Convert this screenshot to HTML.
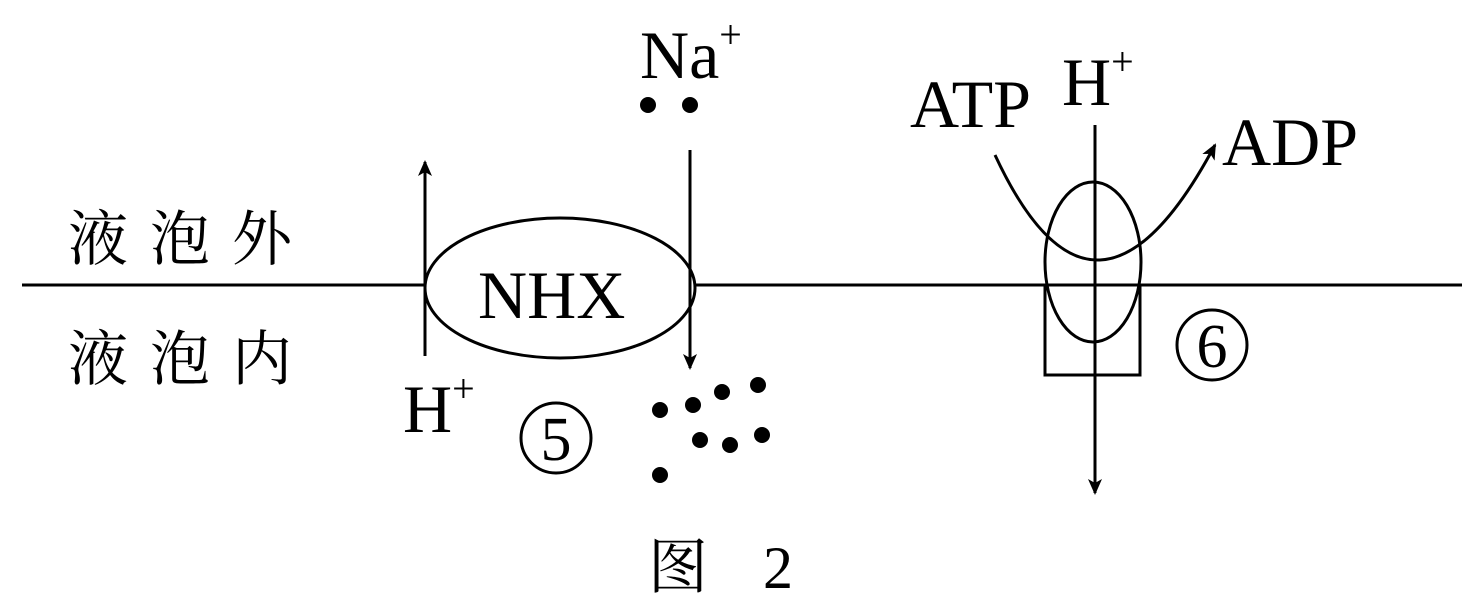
<!DOCTYPE html>
<html><head><meta charset="utf-8"><style>body{margin:0;background:#fff}svg{display:block}</style></head><body>
<svg width="1483" height="607" viewBox="0 0 1483 607" xmlns="http://www.w3.org/2000/svg">
<defs><marker id="a" markerWidth="16" markerHeight="14" refX="14" refY="7" orient="auto" markerUnits="userSpaceOnUse"><path d="M0,0 L16,7 L0,14 L4,7 Z" fill="#000"/></marker></defs>
<g stroke="#000" stroke-width="3" fill="none">
<line x1="22" y1="285" x2="425" y2="285"/>
<line x1="695" y1="285" x2="1462" y2="285"/>
<ellipse cx="560" cy="288" rx="135" ry="70" fill="#fff"/>
<line x1="425" y1="356" x2="425" y2="162" marker-end="url(#a)"/>
<line x1="690" y1="150" x2="690" y2="368" marker-end="url(#a)"/>
<rect x="1045" y="285" width="95" height="90"/>
<ellipse cx="1093" cy="262" rx="48" ry="80"/>
<line x1="1095" y1="125" x2="1095" y2="493" marker-end="url(#a)"/>
<path d="M995,155 Q1095,370 1215,145" marker-end="url(#a)"/>
<circle cx="556" cy="438" r="35" stroke-width="3"/>
<circle cx="1212" cy="345" r="35" stroke-width="3"/>
</g>
<g fill="#000">
<circle cx="648" cy="105" r="8"/><circle cx="690" cy="105" r="8"/>
<circle cx="758" cy="385" r="8"/><circle cx="722" cy="392" r="8"/><circle cx="693" cy="405" r="8"/><circle cx="660" cy="410" r="8"/>
<circle cx="762" cy="435" r="8"/><circle cx="730" cy="445" r="8"/><circle cx="700" cy="440" r="8"/><circle cx="660" cy="475" r="8"/>
</g>
<g font-family="Liberation Serif, serif" font-size="68" fill="#000">
<text x="478" y="318">NHX</text>
<text x="640" y="78">Na<tspan font-size="40" dy="-30">+</tspan></text>
<text x="403" y="432">H<tspan font-size="40" dy="-30">+</tspan></text>
<text x="910" y="127">ATP</text>
<text x="1062" y="105">H<tspan font-size="40" dy="-30">+</tspan></text>
<text x="1222" y="165">ADP</text>
<text x="556" y="460" font-size="62" text-anchor="middle">5</text>
<text x="1212" y="367" font-size="62" text-anchor="middle">6</text>
</g>
<g font-family="Liberation Serif, 'Noto Serif CJK SC', serif" font-size="60" fill="#000">
<text x="68" y="260" letter-spacing="22">液泡外</text>
<text x="68" y="380" letter-spacing="22">液泡内</text>
<text x="648" y="588" letter-spacing="20">图 2</text>
</g>
</svg>
</body></html>
